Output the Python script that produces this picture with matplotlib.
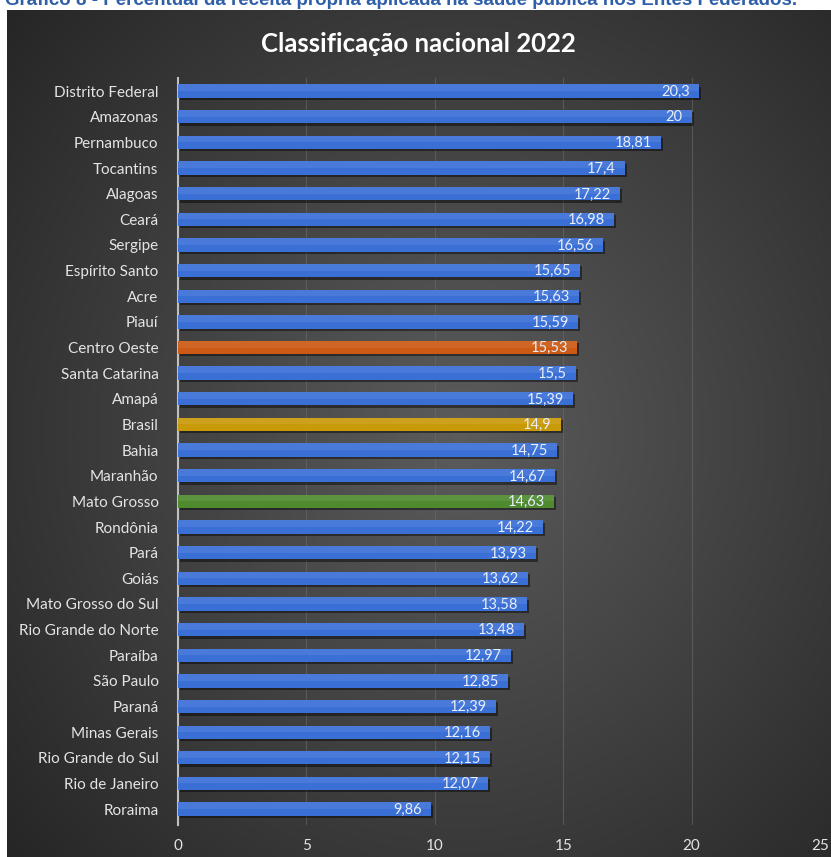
import numpy as np
import matplotlib
matplotlib.use('Agg')
import matplotlib.pyplot as plt

states = ['Distrito Federal', 'Amazonas', 'Pernambuco', 'Tocantins', 'Alagoas',
          'Ceará', 'Sergipe', 'Espírito Santo', 'Acre', 'Piauí', 'Centro Oeste',
          'Santa Catarina', 'Amapá', 'Brasil', 'Bahia', 'Maranhão', 'Mato Grosso',
          'Rondônia', 'Pará', 'Goiás', 'Mato Grosso do Sul', 'Rio Grande do Norte',
          'Paraíba', 'São Paulo', 'Paraná', 'Minas Gerais', 'Rio Grande do Sul',
          'Rio de Janeiro', 'Roraima']
values = [20.3, 20, 18.81, 17.4, 17.22, 16.98, 16.56, 15.65, 15.63, 15.59, 15.53,
          15.5, 15.39, 14.9, 14.75, 14.67, 14.63, 14.22, 13.93, 13.62, 13.58, 13.48,
          12.97, 12.85, 12.39, 12.16, 12.15, 12.07, 9.86]
x_ticks = [0, 5, 10, 15, 20, 25]

highlight = {'Centro Oeste': '#cc5a14', 'Brasil': '#c99a08', 'Mato Grosso': '#4f8a2f'}
blue = '#3a6fd6'

W, H = 831, 857
fig = plt.figure(figsize=(W / 100, H / 100), dpi=100)
fig.patch.set_facecolor('white')

# dark panel with radial gradient
bg = fig.add_axes([7 / W, 0, 1 - 7 / W, 1 - 10 / H])
yy, xx = np.mgrid[0:1:400j, 0:1:400j]
r = np.sqrt(((xx - 0.55) / 0.75) ** 2 + ((yy - 0.5) / 0.8) ** 2)
shade = np.clip(1 - r, 0, 1)
img = np.zeros((400, 400, 3))
lo, hi = np.array([0.14, 0.14, 0.14]), np.array([0.36, 0.36, 0.36])
for c in range(3):
    img[:, :, c] = lo[c] + (hi[c] - lo[c]) * shade
bg.imshow(img, extent=[0, 1, 0, 1], aspect='auto', origin='lower')
bg.axis('off')

fig.text(5 / W, 1 - 5 / H,
         'Gráfico 8 - Percentual da receita própria aplicada na saúde pública nos Entes Federados.',
         color='#2f5fa8', fontsize=13.5, fontweight='bold', family='Liberation Sans',
         va='baseline', ha='left')

fig.text(418 / W, 1 - 44 / H, 'Classificação nacional 2022', color='white',
         fontsize=18.5, fontweight='bold', family='Lato', ha='center', va='center')

ax = fig.add_axes([178 / W, 1 - 825 / H, 642 / W, (825 - 78) / H])
ax.set_facecolor('none')

pos = np.arange(len(states))
colors = [highlight.get(s, blue) for s in states]
bh = 0.52

# shadow, bar and a lighter top band
ax.barh(pos + 0.09, values, height=bh, left=0.08, color='black', alpha=0.45, zorder=2)
ax.barh(pos, values, height=bh, color=colors, zorder=3)
ax.barh(pos - bh / 4, values, height=bh / 2, color='white', alpha=0.08, zorder=4)

for p, v in zip(pos, values):
    label = f'{v:g}'.replace('.', ',')
    ax.text(v - 0.35, p + 0.03, label, ha='right', va='center', color='#e8eefa',
            fontsize=10.5, family='Lato', zorder=5)

ax.set_xlim(0, 25)
ax.set_ylim(28.62, -0.51)
ax.set_xticks(x_ticks)
ax.set_xticklabels([str(t) for t in x_ticks])
ax.set_yticks(pos)
ax.set_yticklabels(states)
ax.tick_params(axis='both', length=0, colors='#e4e4e4', labelsize=11)
ax.tick_params(axis='y', pad=14)
ax.tick_params(axis='x', pad=10)
for lab in ax.get_xticklabels() + ax.get_yticklabels():
    lab.set_family('Lato')
ax.xaxis.grid(True, color='#6a6a6a', linewidth=0.8, alpha=0.6, zorder=0)
ax.set_axisbelow(True)
for side in ['top', 'right', 'bottom']:
    ax.spines[side].set_visible(False)
ax.spines['left'].set_color('#bfbfbf')
ax.spines['left'].set_linewidth(1.5)

fig.savefig('out.png', dpi=100)
